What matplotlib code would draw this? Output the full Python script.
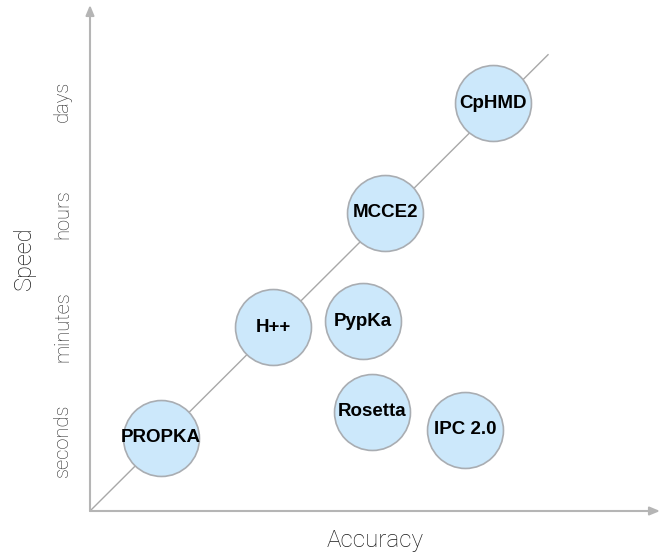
import matplotlib
matplotlib.use("Agg")
import matplotlib.pyplot as plt

# Data (abstract units: speed levels 1=seconds .. 4=days)
tools = ["PROPKA", "H++", "MCCE2", "CpHMD", "PypKa", "Rosetta", "IPC 2.0"]
accuracy = [0.63, 1.62, 2.61, 3.56, 2.41, 2.49, 3.32]
speed = [1.02, 2.00, 3.01, 3.98, 2.05, 1.25, 1.09]
speed_levels = [1, 2, 3, 4]
speed_labels = ["seconds", "minutes", "hours", "days"]
diag_x = [0.0, 4.05]
diag_y = [0.372, 4.41]

fig = plt.figure(figsize=(6.66, 5.58), dpi=100)
ax = fig.add_axes([90/666, (558-511)/558, 570/666, 506/558])
ax.set_xlim(0, 5.04)
ax.set_ylim(0.372, 4.85)

for s in ax.spines.values():
    s.set_visible(False)

# axes arrows
ax.annotate("", xy=(1.0, 0), xytext=(0, 0), xycoords="axes fraction",
            arrowprops=dict(arrowstyle="-|>,head_length=0.6,head_width=0.25",
                            color="#b5b5b5", lw=1.5, shrinkA=0, shrinkB=0))
ax.annotate("", xy=(0, 1.0), xytext=(0, 0), xycoords="axes fraction",
            arrowprops=dict(arrowstyle="-|>,head_length=0.6,head_width=0.25",
                            color="#b5b5b5", lw=1.5, shrinkA=0, shrinkB=0))

ax.plot(diag_x, diag_y, color="#a8a8a8", lw=1.0, zorder=1)

ax.scatter(accuracy, speed, s=2990, facecolor="#cce8fb", edgecolor="#a9adb2",
           linewidth=1.2, zorder=2, clip_on=False)
for t, x, y in zip(tools, accuracy, speed):
    ax.text(x, y, t, ha="center", va="center", fontsize=13.5, fontweight="bold",
            family="Liberation Sans", color="#000000", zorder=3)

ax.set_xticks([])
ax.set_yticks(speed_levels)
ax.set_yticklabels(speed_labels, rotation=90, va="center", fontsize=14.5,
                   family="Roboto", fontweight="light", color="#2a2a2a")
ax.tick_params(axis="y", length=0, pad=13)

ax.set_ylabel("Speed", fontsize=17, family="Roboto", fontweight="light",
              color="#1a1a1a", labelpad=12)
ax.set_xlabel("Accuracy", fontsize=17.5, family="Roboto", fontweight="light",
              color="#1a1a1a", labelpad=13)

fig.savefig("out.png", dpi=100)
